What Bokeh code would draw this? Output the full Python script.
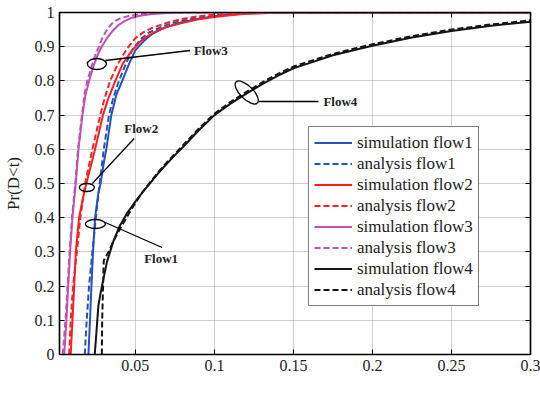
from bokeh.plotting import figure
from bokeh.models import Range1d, FixedTicker, LinearAxis, Legend, Label, ColumnDataSource
from bokeh.core.properties import value
from bokeh.embed import file_html
from bokeh.resources import INLINE

# ---------------- data ----------------
flow1_sim_t = [0.0203, 0.0213, 0.0222, 0.0232, 0.0245, 0.0265, 0.0280, 0.0300, 0.0316, 0.0348, 0.0380, 0.0417, 0.0460, 0.0500,
               0.0550, 0.0600, 0.0650, 0.0700, 0.0800, 0.0900, 0.1000, 0.1100, 0.1200, 0.1400, 0.1600, 0.3000]
flow1_sim_p = [0.0, 0.1, 0.2, 0.3, 0.4, 0.47, 0.5, 0.56, 0.6, 0.7, 0.76, 0.8, 0.85, 0.89,
               0.915, 0.935, 0.948, 0.958, 0.972, 0.982, 0.989, 0.994, 0.997, 0.999, 1.0, 1.0]
flow1_ana_t = [0.0180, 0.0192, 0.0207, 0.0228, 0.0250, 0.0274, 0.0300, 0.0333, 0.0360, 0.0396, 0.0440, 0.0480, 0.0530,
               0.0580, 0.0640, 0.0700, 0.0800, 0.0900, 0.1000, 0.1100, 0.1200, 0.1400, 0.3000]
flow1_ana_p = [0.0, 0.1, 0.2, 0.3, 0.4, 0.5, 0.6, 0.7, 0.75, 0.8, 0.85, 0.89, 0.92,
               0.94, 0.953, 0.964, 0.977, 0.985, 0.991, 0.995, 0.998, 1.0, 1.0]

flow2_sim_t = [0.0091, 0.0102, 0.0113, 0.0123, 0.0144, 0.0165, 0.0190, 0.0245, 0.0295, 0.0330, 0.0373, 0.0420, 0.0480,
               0.0530, 0.0580, 0.0640, 0.0700, 0.0800, 0.0900, 0.1000, 0.1100, 0.1200, 0.1400, 0.1600, 0.3000]
flow2_sim_p = [0.0, 0.1, 0.2, 0.3, 0.4, 0.45, 0.5, 0.6, 0.7, 0.75, 0.8, 0.85, 0.89,
               0.915, 0.932, 0.947, 0.958, 0.970, 0.980, 0.987, 0.992, 0.996, 0.999, 1.0, 1.0]
flow2_ana_t = [0.0081, 0.0091, 0.0106, 0.0130, 0.0152, 0.0182, 0.0228, 0.0278, 0.0300, 0.0340, 0.0390, 0.0448, 0.0500,
               0.0550, 0.0606, 0.0700, 0.0795, 0.0900, 0.1000, 0.1150, 0.1350, 0.3000]
flow2_ana_p = [0.0, 0.1, 0.2, 0.3, 0.4, 0.5, 0.6, 0.7, 0.74, 0.8, 0.85, 0.895, 0.925,
               0.942, 0.955, 0.970, 0.981, 0.989, 0.994, 0.998, 1.0, 1.0]

flow3_sim_t = [0.0050, 0.0064, 0.0075, 0.0087, 0.0102, 0.0123, 0.0140, 0.0165, 0.0185, 0.0207, 0.0240, 0.0265, 0.0287,
               0.0320, 0.0354, 0.0390, 0.0428, 0.0470, 0.0520, 0.0580, 0.0650, 0.0750, 0.0850, 0.3000]
flow3_sim_p = [0.0, 0.1, 0.2, 0.3, 0.4, 0.5, 0.6, 0.7, 0.76, 0.8, 0.85, 0.88, 0.9,
               0.925, 0.945, 0.962, 0.974, 0.983, 0.99, 0.994, 0.997, 0.999, 1.0, 1.0]
flow3_ana_t = [0.0040, 0.0058, 0.0071, 0.0084, 0.0099, 0.0120, 0.0137, 0.0162, 0.0178, 0.0196, 0.0228, 0.0250, 0.0270,
               0.0290, 0.0315, 0.0340, 0.0370, 0.0410, 0.0460, 0.0520, 0.0580, 0.0680, 0.0780, 0.3000]
flow3_ana_p = [0.0, 0.1, 0.2, 0.3, 0.4, 0.5, 0.6, 0.7, 0.76, 0.8, 0.85, 0.88, 0.9,
               0.925, 0.945, 0.962, 0.975, 0.984, 0.99, 0.994, 0.997, 0.999, 1.0, 1.0]

flow4_sim_t = [0.0243, 0.0256, 0.0266, 0.0280, 0.0295, 0.0320, 0.0360, 0.0400, 0.0450, 0.0500, 0.0550, 0.0600, 0.0650,
               0.0700, 0.0750, 0.0800, 0.0900, 0.1000, 0.1100, 0.1200, 0.1300, 0.1400, 0.1500, 0.1600, 0.1750, 0.1900,
               0.2000, 0.2250, 0.2500, 0.2750, 0.3000]
flow4_sim_p = [0.0, 0.08, 0.143, 0.18, 0.215, 0.27, 0.33, 0.375, 0.415, 0.447, 0.477, 0.505, 0.533,
               0.558, 0.583, 0.606, 0.655, 0.700, 0.733, 0.762, 0.790, 0.815, 0.837, 0.852, 0.875, 0.892,
               0.903, 0.927, 0.946, 0.961, 0.973]
flow4_ana_t = [0.0288, 0.0290, 0.0300, 0.0330, 0.0360, 0.0400, 0.0450, 0.0490, 0.0550, 0.0600, 0.0650, 0.0700, 0.0800,
               0.0900, 0.1000, 0.1100, 0.1200, 0.1300, 0.1400, 0.1500, 0.1600, 0.1750, 0.1900, 0.2000, 0.2250, 0.2500,
               0.2750, 0.3000]
flow4_ana_p = [0.0, 0.1, 0.275, 0.30, 0.33, 0.365, 0.405, 0.436, 0.478, 0.507, 0.536, 0.562, 0.611,
               0.660, 0.704, 0.738, 0.767, 0.795, 0.820, 0.842, 0.857, 0.879, 0.896, 0.907, 0.931, 0.950,
               0.965, 0.977]

series_names = ["simulation flow1", "analysis flow1", "simulation flow2", "analysis flow2",
                "simulation flow3", "analysis flow3", "simulation flow4", "analysis flow4"]

x_ticks = [0.05, 0.1, 0.15, 0.2, 0.25, 0.3]
x_tick_labels = ["0.05", "0.1", "0.15", "0.2", "0.25", "0.3"]
y_ticks = [0.0, 0.1, 0.2, 0.3, 0.4, 0.5, 0.6, 0.7, 0.8, 0.9, 1.0]
y_tick_labels = ["0", "0.1", "0.2", "0.3", "0.4", "0.5", "0.6", "0.7", "0.8", "0.9", "1"]

flow_labels = ["Flow1", "Flow2", "Flow3", "Flow4"]

# ---------------- layout ----------------
X0, X1 = 0.002, 0.3
FL, FR, FT, FB = 57, 530, 12, 354
W, H = 540, 393


def dx(px):
    return X0 + (px - FL) * (X1 - X0) / (FR - FL)


def dy(py):
    return (FB - py) / (FB - FT)


SERIF = "'Liberation Serif', 'Times New Roman', serif"
BLUE = "#2352c0"
RED = "#ff1f1f"
MAGENTA = "#c250b4"
BLACK = "#141414"

p = figure(width=W, height=H, x_range=Range1d(X0, X1), y_range=Range1d(0, 1),
           output_backend="svg", toolbar_location=None,
           min_border_left=FL, min_border_right=W - FR, min_border_top=FT, min_border_bottom=H - FB)
p.background_fill_color = "white"
p.border_fill_color = "white"
p.outline_line_color = "black"
p.outline_line_width = 1.2

# grid
for g in (p.xgrid, p.ygrid):
    g.grid_line_color = "#a0a0a0"
    g.grid_line_dash = "1 1"
    g.grid_line_width = 1
p.xgrid.ticker = FixedTicker(ticks=x_ticks)
p.ygrid.ticker = FixedTicker(ticks=y_ticks)


def style_axis(ax, ticks, labels, show_labels=True):
    ax.ticker = FixedTicker(ticks=ticks)
    ax.axis_line_color = "black"
    ax.axis_line_width = 1.5
    ax.major_tick_line_color = "black"
    ax.major_tick_line_width = 1
    ax.major_tick_in = 5
    ax.major_tick_out = 0
    ax.minor_tick_line_color = None
    ax.major_label_text_font = SERIF
    ax.major_label_text_color = "#222222"
    if show_labels:
        ax.major_label_overrides = dict(zip(ticks, labels))
        ax.major_label_text_font_size = "16px"
    else:
        ax.major_label_overrides = {t: "" for t in ticks}
        ax.major_label_text_font_size = "1px"
        ax.major_label_standoff = 0


style_axis(p.xaxis[0], x_ticks, x_tick_labels)
style_axis(p.yaxis[0], y_ticks, y_tick_labels)
p.xaxis[0].major_label_standoff = 5
p.yaxis[0].major_label_standoff = 5
p.yaxis[0].axis_label = "Pr(D<t)"
p.yaxis[0].axis_label_text_font = SERIF
p.yaxis[0].axis_label_text_font_size = "17px"
p.yaxis[0].axis_label_text_font_style = "normal"
p.yaxis[0].axis_label_text_color = "#222222"
p.yaxis[0].axis_label_standoff = 9

ax_top = LinearAxis()
style_axis(ax_top, x_ticks, x_tick_labels, show_labels=False)
p.add_layout(ax_top, "above")
ax_right = LinearAxis()
style_axis(ax_right, y_ticks, y_tick_labels, show_labels=False)
p.add_layout(ax_right, "right")

# ---------------- curves ----------------
curves = [
    (flow1_sim_t, flow1_sim_p, BLUE, "solid"),
    (flow1_ana_t, flow1_ana_p, BLUE, "6 3"),
    (flow2_sim_t, flow2_sim_p, RED, "solid"),
    (flow2_ana_t, flow2_ana_p, RED, "6 3"),
    (flow3_sim_t, flow3_sim_p, MAGENTA, "solid"),
    (flow3_ana_t, flow3_ana_p, MAGENTA, "6 3"),
    (flow4_sim_t, flow4_sim_p, BLACK, "solid"),
    (flow4_ana_t, flow4_ana_p, BLACK, "6 3"),
]
items = []
for (t, pr, col, dash), name in zip(curves, series_names):
    r = p.line(t, pr, line_color=col, line_width=2, line_dash=dash, line_join="round")
    items.append((name, [r]))

legend = Legend(items=items, location=(306 - FL, FB - 306))
legend.border_line_color = "black"
legend.border_line_width = 1.2
legend.background_fill_color = "white"
legend.background_fill_alpha = 1
legend.label_text_font = SERIF
legend.label_text_font_size = "17px"
legend.label_text_color = "#222222"
legend.glyph_width = 38
legend.glyph_height = 21
legend.label_height = 21
legend.label_standoff = 5
legend.padding = 5
legend.spacing = 0
legend.margin = 0
p.add_layout(legend)

# ---------------- callouts ----------------
ell_px = [(93, 223.5, 20, 9, 0.0), (84.5, 187, 15, 8, 0.0), (94.5, 63.5, 19, 11, 0.0), (245, 92, 30, 13, -0.78)]
ell_src = ColumnDataSource(dict(
    x=[dx(e[0]) for e in ell_px], y=[dy(e[1]) for e in ell_px],
    w=[e[2] for e in ell_px], h=[e[3] for e in ell_px], a=[e[4] for e in ell_px]))
p.ellipse(x="x", y="y", width="w", height="h", angle="a", source=ell_src,
          width_units="screen", height_units="screen",
          fill_color=None, line_color="black", line_width=1.3)

seg_px = [(103, 222, 160, 247), (90, 183, 132, 138), (103, 60, 188, 50), (257, 101, 317, 101)]
p.segment(x0=[dx(s[0]) for s in seg_px], y0=[dy(s[1]) for s in seg_px],
          x1=[dx(s[2]) for s in seg_px], y1=[dy(s[3]) for s in seg_px],
          line_color="black", line_width=1.3)

lab_px = [(142, 258), (122, 128), (192, 50), (322, 101)]
p.text(x=[dx(l[0]) for l in lab_px], y=[dy(l[1]) for l in lab_px], text=flow_labels,
       text_font=value(SERIF), text_font_style="bold", text_font_size="13px",
       text_color="#222222", text_align="left", text_baseline="middle")

# x axis label placed like the reference (slightly right of centre)
p.add_layout(Label(x=dx(315), y=dy(381), text="t (s)", text_font=SERIF, text_font_size="17px",
                   text_color="#222222", text_align="center", text_baseline="middle"))

open("out.html", "w").write(file_html(p, INLINE))
